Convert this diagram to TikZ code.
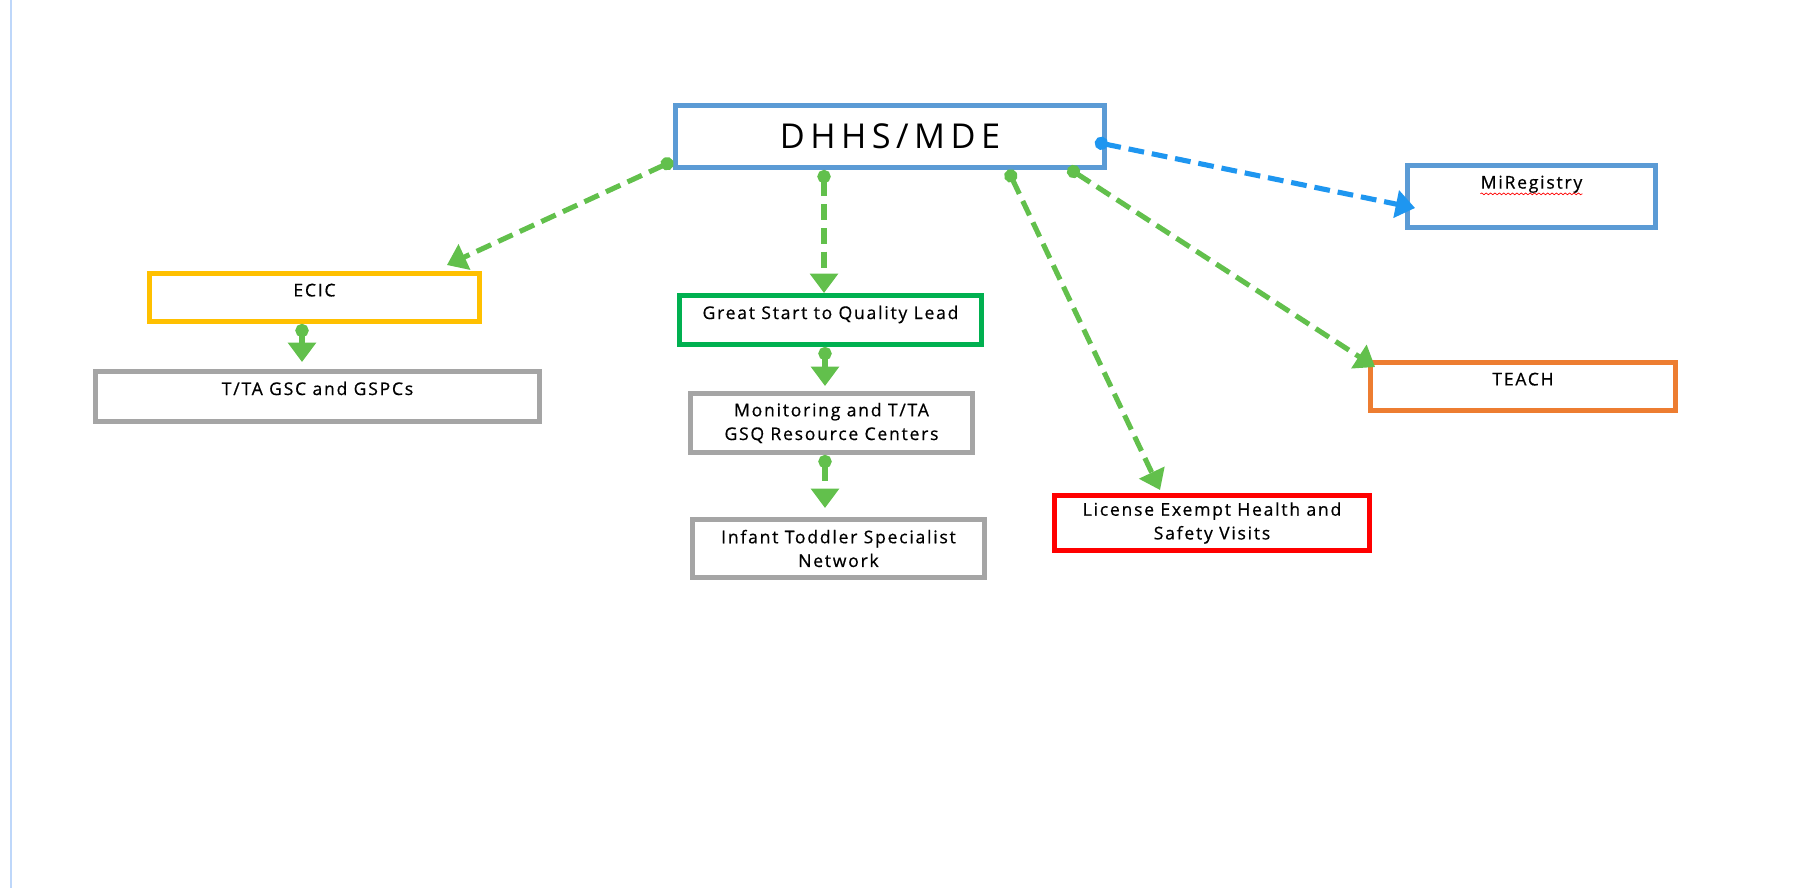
\documentclass[tikz,border=0pt]{standalone}
\usepackage{fontspec}
\setmainfont{Open Sans}[LetterSpace=10, FakeBold=0.6]
\newfontfamily\headfont{Open Sans}[LetterSpace=16]
\usetikzlibrary{arrows.meta,decorations.pathmorphing}
\definecolor{officeblue}{RGB}{91,155,213}
\definecolor{gold}{RGB}{255,192,0}
\definecolor{slate}{RGB}{165,165,165}
\definecolor{leafgreen}{RGB}{0,176,80}
\definecolor{signalred}{RGB}{255,0,0}
\definecolor{tangerine}{RGB}{237,125,49}
\definecolor{linkgreen}{RGB}{98,192,76}
\definecolor{linkblue}{RGB}{30,150,240}
\definecolor{pageedge}{RGB}{190,215,250}

\begin{document}
\begin{tikzpicture}[x=0.02cm, y=-0.02cm,
    unit/.style={draw=#1, line width=2.8pt, fill=white, align=center, inner sep=2pt,
                 font=\fontsize{10}{13.5}\selectfont},
    toptext/.style={anchor=north, yshift=-5pt, inner sep=2pt, font=\fontsize{10}{13.5}\selectfont},
    flow/.style={draw=linkgreen, line width=2.9pt, dash pattern=on 9pt off 4.5pt,
                 {Circle[length=7.5pt]}-{Triangle[length=11pt,width=15.5pt]}},
    regflow/.style={flow, draw=linkblue}]
    \useasboundingbox (0,0) rectangle (1805,888);
    \draw[pageedge, line width=0.6pt] (11,0) -- (11,888);

    % boxes
    \node[unit=officeblue, minimum width=8.58cm, minimum height=1.24cm, font=\headfont\fontsize{19.5}{23}\selectfont] (dhhs) at (890,136.5) {DHHS/MDE};
    \node[unit=officeblue, minimum width=4.96cm, minimum height=1.24cm, label={[toptext, name=miregtext]north:MiRegistry}] (mireg) at (1531.5,196.5) {};
    \node[unit=gold, minimum width=6.60cm, minimum height=0.96cm, label={[toptext]north:ECIC}] (ecic) at (314.5,297.5) {};
    \node[unit=slate, minimum width=8.88cm, minimum height=1.00cm, label={[toptext]north:T/TA GSC and GSPCs}] (tta) at (317.5,396.5) {};
    \node[unit=leafgreen, minimum width=6.04cm, minimum height=0.98cm, label={[toptext]north:Great Start to Quality Lead}] (gsq) at (830.5,320) {};
    \node[unit=slate, minimum width=5.64cm, minimum height=1.18cm] (mon) at (831.5,423) {Monitoring and T/TA\\GSQ Resource Centers};
    \node[unit=slate, minimum width=5.84cm, minimum height=1.16cm] (inf) at (838.5,548.5) {Infant Toddler Specialist\\Network};
    \node[unit=signalred, minimum width=6.30cm, minimum height=1.10cm] (lic) at (1212,523) {License Exempt Health and\\Safety Visits};
    \node[unit=tangerine, minimum width=6.10cm, minimum height=0.96cm, label={[toptext]north:TEACH}] (teach) at (1523,386.5) {};

    % spell-check underline
    \draw[red, line width=0.4pt, decorate, decoration={snake, amplitude=0.5pt, segment length=2.5pt}]
        ([xshift=2pt, yshift=-3pt]miregtext.base west) -- ([xshift=-2pt, yshift=-3pt]miregtext.base east);

    % links
    \draw[flow] ([yshift=0.18cm]dhhs.south west) -- ([xshift=-0.7cm, yshift=0.12cm]ecic.north east);
    \draw[flow] ([xshift=-1.32cm]dhhs.south) -- ([xshift=-1.32cm]dhhs.south |- gsq.north);
    \draw[flow] ([xshift=2.36cm]dhhs.south) -- ([xshift=2.16cm, yshift=0.06cm]lic.north west);
    \draw[flow] ([xshift=3.56cm, yshift=0.04cm]dhhs.south) -- ([xshift=0.14cm, yshift=-0.14cm]teach.north west);
    \draw[regflow] ([xshift=-0.24cm, yshift=-0.11cm]dhhs.east) -- ([xshift=0.2cm, yshift=-0.23cm]mireg.west);
    \draw[flow] ([xshift=-0.25cm]ecic.south) -- ([xshift=-0.25cm, yshift=0.14cm]ecic.south |- tta.north);
    \draw[flow] ([xshift=-0.11cm]gsq.south) -- ([xshift=-0.11cm, yshift=0.1cm]gsq.south |- mon.north);
    \draw[flow] ([xshift=-0.13cm]mon.south) -- ([xshift=-0.13cm, yshift=0.18cm]mon.south |- inf.north);
\end{tikzpicture}
\end{document}
